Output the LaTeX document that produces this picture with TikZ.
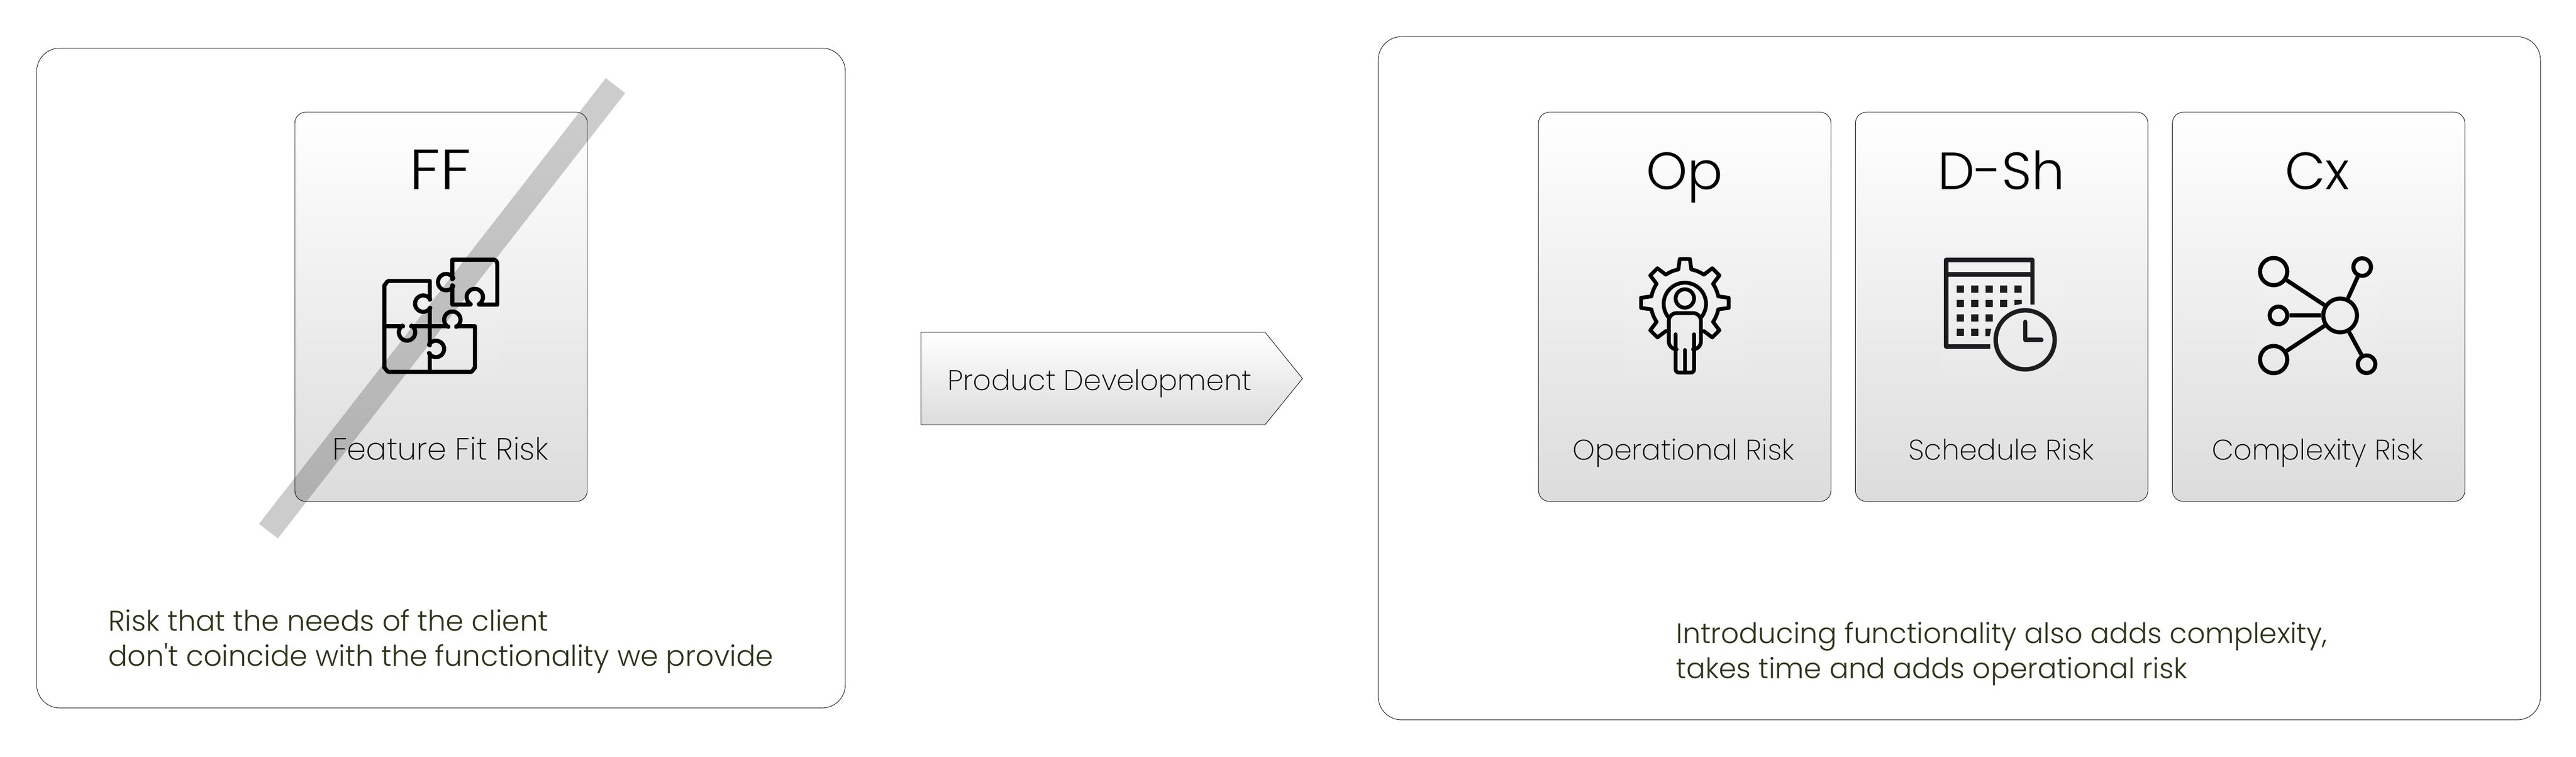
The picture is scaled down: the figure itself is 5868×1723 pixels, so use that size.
\documentclass[tikz,border=0pt]{standalone}
\usepackage{fontspec}
\setmainfont{Poppins ExtraLight}[Ligatures=TeXOff]
\newfontfamily\notefont{Poppins Light}[Ligatures=TeXOff]
\definecolor{lineblack}{HTML}{000000}
\definecolor{cardbottom}{HTML}{DCDCDC}
\definecolor{olive}{HTML}{2B3518}
\definecolor{icondark}{HTML}{1D1C1F}
\tikzset{
  panel/.style={draw=lineblack,line width=.3pt,rounded corners=.53cm,inner sep=0,anchor=north west,fill=white},
  card/.style={draw=lineblack,line width=.3pt,rounded corners=.25cm,inner sep=0,anchor=north west,top color=white,bottom color=cardbottom},
  backdrop/.style={fill=white,fill opacity=.07,rounded corners=.25cm},
  title/.style={inner sep=0,anchor=base,font=\notefont\fontsize{33.9}{40}\selectfont},
  caption/.style={inner sep=0,anchor=base,font=\fontsize{18.4}{23}\selectfont},
  note/.style={inner sep=0,anchor=base west,text=olive,font=\notefont\fontsize{18.5}{23}\selectfont},
  noteB/.style={note,font=\notefont\fontsize{18.3}{23}\selectfont},
  iconline/.style={line width=.0867cm,line join=round,line cap=round,draw=black},
  dot/.style={circle,draw=black,line width=.0933cm,inner sep=0},
  bigdot/.style={dot,minimum size=.62cm},
  smalldot/.style={dot,minimum size=.40cm},
  hubdot/.style={dot,minimum size=.767cm},
  spoke/.style={line width=.0933cm,draw=black},
}
\begin{document}
\begin{tikzpicture}[x=.01cm,y=-.01cm]
\useasboundingbox (0,0) rectangle (5868,1723);
% panels
\node[panel,minimum width=18.41cm,minimum height=15.02cm] (left) at (83,109) {};
\node[panel,minimum width=26.46cm,minimum height=15.55cm] (right) at (3139,83) {};
% cards
\node[card,minimum width=6.66cm,minimum height=8.86cm] (ff) at (671,255) {};
\node[card,minimum width=6.66cm,minimum height=8.86cm] (op) at (3504,255) {};
\node[card,minimum width=6.66cm,minimum height=8.86cm] (ds) at (4226,255) {};
\node[card,minimum width=6.66cm,minimum height=8.86cm] (cx) at (4948,255) {};
% backdrops
\fill[backdrop] (865,580) rectangle (1143,858);
\fill[backdrop] (3700,580) rectangle (3978,858);
\fill[backdrop] (4421,580) rectangle (4699,858);
\fill[backdrop] (5142,580) rectangle (5420,858);
% strike band
\fill[black,fill opacity=.2] (1380,178) -- (1424,212) -- (633,1226) -- (590,1193) -- cycle;
% titles and captions
\node[title] (ffT) at (1003,431) {\scalebox{1.2}[1.08]{FF}};
\node[title] (opT) at (3837,431) {Op};
\node[title] (dsT) at (4559,431) {D-Sh};
\node[title] (cxT) at (5279,431) {Cx};
\node[caption,font=\fontsize{19.9}{23}\selectfont] (ffC) at (1003,1048) {Feature Fit Risk};
\node[caption] (opC) at (3835,1048) {Operational Risk};
\node[caption] (dsC) at (4559,1048) {Schedule Risk};
\node[caption] (cxC) at (5279,1048) {Complexity Risk};
% notes
\node[note] (n1) at (246,1437) {Risk that the needs of the client};
\node[note] (n2) at (246,1517) {don't coincide with the functionality we provide};
\node[noteB] (n3) at (3818,1465) {Introducing functionality also adds complexity,};
\node[noteB] (n4) at (3818,1545) {takes time and adds operational risk};
% arrow
\shadedraw[draw=lineblack,line width=.3pt,top color=white,bottom color=cardbottom] (2098,757) -- (2882,757) -- (2967,862) -- (2882,967) -- (2098,967) -- cycle;
\node[caption,anchor=base west] (pd) at (2158,889) {Product Development};
% puzzle icon
\begin{scope}[shift={(820,560)},x=.003333cm,y=-.003333cm]
\draw[iconline,line width=.0933cm]
  (632,228) -- (632,94) -- (915,94) to[out=0,in=90,looseness=.8] (940,120) -- (940,402) -- (815,402)
  -- plot[domain=61:-241,samples=40] ({786+56*cos(\x)},{350+56*sin(\x)}) -- (755,402) -- (632,402) -- (632,270)
  -- plot[domain=29:331,samples=40] ({590+56*cos(\x)},{248+56*sin(\x)}) -- cycle;
\draw[iconline,line width=.0933cm]
  (478,368) -- (478,240) -- (195,240) to[out=180,in=270,looseness=.8] (167,268) -- (167,835) to[out=90,in=180,looseness=.8] (195,862) -- (760,862) to[out=0,in=90,looseness=.8] (787,835) -- (787,550) -- (660,550)
  -- plot[domain=61:-241,samples=40] ({632+56*cos(\x)},{505+56*sin(\x)}) -- (602,550) -- (350,550)
  -- plot[domain=-56:236,samples=40] ({322+56*cos(\x)},{592+56*sin(\x)}) -- (295,550) -- (167,550);
\draw[iconline,line width=.0933cm]
  (478,368) -- plot[domain=-31:-329,samples=40] ({433+56*cos(\x)},{395+56*sin(\x)}) -- (478,425) -- (478,680)
  -- plot[domain=211:509,samples=40] ({520+56*cos(\x)},{705+56*sin(\x)}) -- (478,735) -- (478,862);
\end{scope}
% gear-and-person icon
\begin{scope}[shift={(3600,520)},x=.003333cm,y=-.003333cm]
\begin{scope}[shift={(715,510)}]
\draw[iconline] (124:233)
  \foreach \t in {135,180,...,360}{ -- ({\t-11}:233) -- ({\t-6.6}:302) -- ({\t+6.6}:302) -- ({\t+11}:233) -- ({\t+17}:233) -- ({\t+23}:233) -- ({\t+29}:233) }
  -- (394:233) -- (398.4:302) -- (411.6:302) -- (416:233);
\end{scope}
\draw[iconline] plot[domain=221:-41,samples=50] ({715+145*cos(\x)},{517-145*sin(\x)});
\draw[iconline] (715,480) circle[radius=63];
\draw[iconline,rounded corners=.18cm] (652,828) -- (605,828) -- (605,580) -- (825,580) -- (825,828) -- (778,828);
\draw[iconline,rounded corners=.07cm] (652,725) -- (652,987) -- (778,987) -- (778,725);
\draw[iconline] (715,832) -- (715,985);
\end{scope}
% calendar icon
\begin{scope}[shift={(4340,540)},x=.003333cm,y=-.003333cm]
\draw[icondark,line width=.1cm,line join=round] (580,748) -- (280,748) -- (280,157) -- (870,157) -- (870,462);
\draw[icondark,line width=.1cm] (280,255) -- (870,255);
\foreach \c in {352,451,549,648,748} \fill[icondark] (\c,331) rectangle +(50,50);
\foreach \c in {352,451,549,648} \fill[icondark] (\c,430) rectangle +(50,50);
\fill[icondark] (748,430) -- (798,430) -- (798,457) -- (748,466) -- cycle;
\foreach \c in {352,451,549} \fill[icondark] (\c,529) rectangle +(50,50);
\foreach \c in {352,451} \fill[icondark] (\c,628) rectangle +(50,50);
\fill[icondark] (549,628) -- (588,628) -- (578,678) -- (549,678) -- cycle;
\draw[icondark,line width=.1cm] (821,703) circle[radius=202];
\draw[icondark,line width=.1cm,line cap=round,line join=round] (821,580) -- (821,703) -- (932,703);
\end{scope}
% network icon
\begin{scope}[shift={(5100,540)},x=.003333cm,y=-.003333cm]
\node[hubdot] (hub) at (693,536) {};
\node[bigdot] (tl) at (238,236) {};
\node[bigdot] (bl) at (238,838) {};
\node[smalldot] (tr) at (844,205) {};
\node[smalldot] (ml) at (271,536) {};
\node[smalldot] (br) at (874,870) {};
\draw[spoke] (hub) -- (tl);
\draw[spoke] (hub) -- (bl);
\draw[spoke] (hub) -- (tr);
\draw[spoke] (hub) -- (ml);
\draw[spoke] (hub) -- (br);
\end{scope}
\end{tikzpicture}
\end{document}
